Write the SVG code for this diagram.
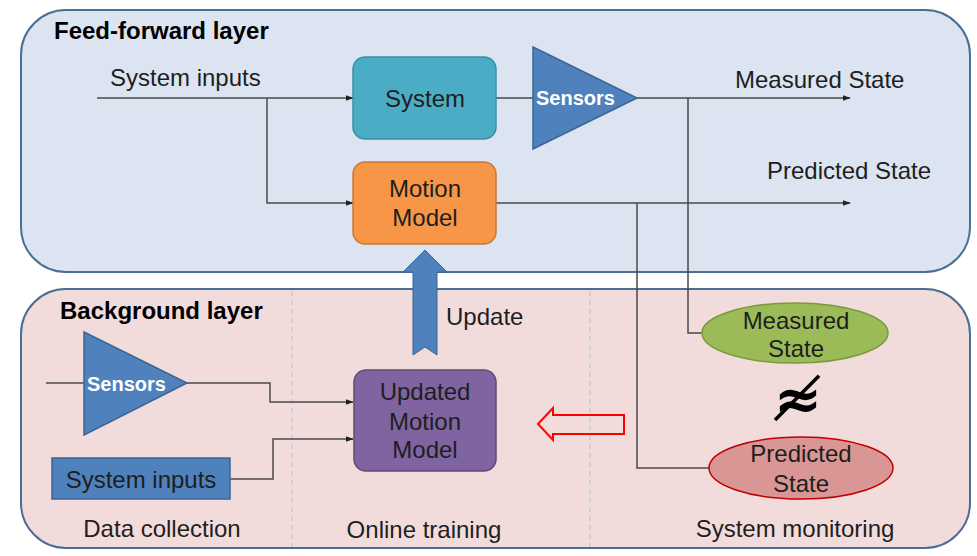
<svg xmlns="http://www.w3.org/2000/svg" width="977" height="556" viewBox="0 0 977 556">
<defs>
<style>
text{font-family:"Liberation Sans",Arial,sans-serif;fill:#1e1e1e}
.t{font-size:24px}
.c{text-anchor:middle}
.b{font-weight:bold;font-size:24px;fill:#000}
.w{font-weight:bold;font-size:20px;fill:#fff}
.ln{fill:none;stroke:#4a4a4a;stroke-width:1.5}
.tri{fill:#4f81bd;stroke:#3a6594;stroke-width:1.5}
</style>
<marker id="ah" viewBox="0 0 10 10" refX="9" refY="5" markerWidth="8" markerHeight="8" markerUnits="userSpaceOnUse" orient="auto"><path d="M0,1.5 L10,5 L0,8.5 Z" fill="#222"/></marker>
</defs>
<rect width="977" height="556" fill="#fff"/>
<g id="feedforward-layer">
<rect x="21" y="10" width="949" height="262" rx="45" fill="#dbe4f0" stroke="#4a6e96" stroke-width="2"/>
<text class="b" x="54" y="39">Feed-forward layer</text>
</g>
<g id="background-layer">
<rect x="21" y="289" width="949" height="259" rx="45" fill="#f2dcdb" stroke="#4a6e96" stroke-width="2"/>
<text class="b" x="60" y="319">Background layer</text>
<line x1="292" y1="291" x2="292" y2="547" stroke="#b8c8dc" stroke-width="1.2" stroke-dasharray="5,4"/>
<line x1="590" y1="291" x2="590" y2="547" stroke="#b8c8dc" stroke-width="1.2" stroke-dasharray="5,4"/>
<text class="t c" x="162" y="537">Data collection</text>
<text class="t c" x="424" y="538">Online training</text>
<text class="t c" x="795" y="537">System monitoring</text>
</g>
<g id="connectors">
<path class="ln" d="M97,98 H353" marker-end="url(#ah)"/>
<path class="ln" d="M267,98 V203 H353" marker-end="url(#ah)"/>
<path class="ln" d="M496,98 H533"/>
<path class="ln" d="M637,98 H850" marker-end="url(#ah)"/>
<path class="ln" d="M496,203 H850" marker-end="url(#ah)"/>
<path class="ln" d="M688,98 V333 H703"/>
<path class="ln" d="M637,203 V468 H709"/>
<path class="ln" d="M46,383 H84"/>
<path class="ln" d="M187,383 H270 V402 H353" marker-end="url(#ah)"/>
<path class="ln" d="M230,479 H273 V439 H353" marker-end="url(#ah)"/>
</g>
<g id="update-arrow">
<path d="M425,250 L447,272 L437,272 L437,355 L425,347 L413,355 L413,272 L403,272 Z" fill="#4f81bd" stroke="#3a6594" stroke-width="1"/>
<text class="t" x="446" y="325">Update</text>
</g>
<g id="system">
<rect x="353" y="57" width="143" height="82" rx="12" fill="#4bacc6" stroke="#3c8ea6" stroke-width="1.5"/>
<text class="t c" x="425" y="107">System</text>
</g>
<g id="motion-model">
<rect x="353" y="162" width="143" height="82" rx="12" fill="#f79646" stroke="#c8783a" stroke-width="1.5"/>
<text class="t c" x="425" y="197">Motion</text>
<text class="t c" x="425" y="226">Model</text>
</g>
<g id="sensors-top">
<path class="tri" d="M533,47 L637,98 L533,149 Z"/>
<text class="w" x="536" y="105">Sensors</text>
</g>
<text class="t" x="735" y="88">Measured State</text>
<text class="t" x="767" y="179">Predicted State</text>
<g id="sensors-bottom">
<path class="tri" d="M84,332 L187,383 L84,435 Z"/>
<text class="w" x="87" y="391">Sensors</text>
</g>
<g id="system-inputs-box">
<rect x="52" y="458" width="178" height="41" fill="#4f81bd" stroke="#3a6594" stroke-width="1.5"/>
<text class="t c" x="141" y="488">System inputs</text>
</g>
<text class="t" x="110" y="86">System inputs</text>
<g id="updated-motion-model">
<rect x="354" y="370" width="142" height="101" rx="12" fill="#8064a2" stroke="#5f4a7a" stroke-width="1.5"/>
<text class="t c" x="425" y="400">Updated</text>
<text class="t c" x="425" y="430">Motion</text>
<text class="t c" x="425" y="458">Model</text>
</g>
<g id="red-arrow">
<path d="M538,424 L553,408 L553,415 L624,415 L624,434 L553,434 L553,440 Z" fill="none" stroke="#ff0000" stroke-width="2"/>
</g>
<g id="measured-state">
<ellipse cx="795" cy="333" rx="93" ry="30" fill="#9bbb59" stroke="#7a9a3a" stroke-width="1.5"/>
<text class="t c" x="796" y="329">Measured</text>
<text class="t c" x="796" y="357">State</text>
</g>
<text x="798" y="419" text-anchor="middle" style="font-family:'DejaVu Serif',serif;font-size:58px;font-weight:bold;fill:#000">≉</text>
<g id="predicted-state">
<ellipse cx="801" cy="468" rx="92" ry="31" fill="#d99694" stroke="#c00000" stroke-width="1.5"/>
<text class="t c" x="801" y="462">Predicted</text>
<text class="t c" x="801" y="492">State</text>
</g>
</svg>
